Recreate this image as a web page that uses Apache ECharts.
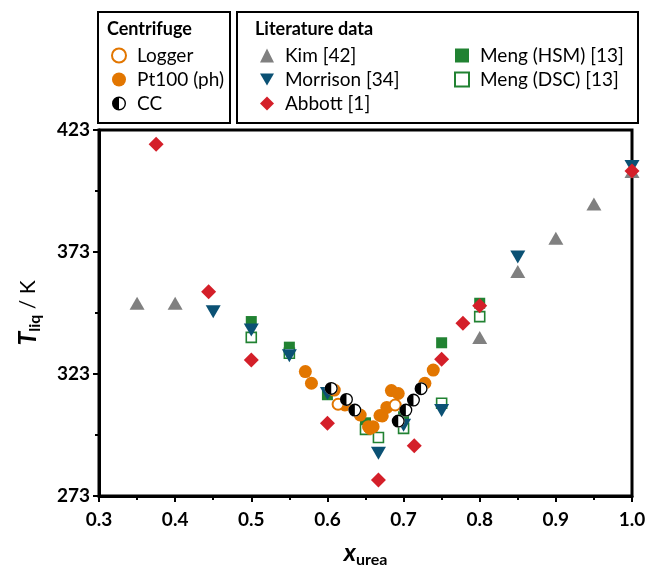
<!DOCTYPE html>
<html lang="en">
<head>
<meta charset="UTF-8">
<title>urea liquidus</title>
<script src="https://cdn.jsdelivr.net/npm/echarts@6/dist/echarts.min.js"></script>
<style>
  html, body { margin: 0; padding: 0; background: #fff; }
  #chart { width: 649px; height: 573px; }
</style>
</head>
<body>
<div id="chart"></div>
<script>
// [x_urea, T_liq in K]
var logger = [[0.614, 310.6], [0.689, 310.3]];
var pt100 = [[0.571, 324], [0.579, 319.2], [0.609, 316.4], [0.623, 310.3], [0.643, 306.2],
             [0.654, 301.4], [0.656, 300.7], [0.660, 301.4], [0.669, 306.0], [0.672, 305.8],
             [0.678, 309.3], [0.684, 316.2], [0.693, 315.0], [0.728, 319.2], [0.739, 324.6]];
var cc = [[0.605, 317.1], [0.625, 312.6], [0.636, 308.2], [0.693, 303.7], [0.703, 308.2],
          [0.713, 312.3], [0.723, 317.0]];
var kim = [[0.35, 352], [0.40, 352], [0.80, 338], [0.85, 365], [0.90, 378.6], [0.95, 392.7], [1.0, 406]];
var morrison = [[0.45, 348.5], [0.50, 341], [0.55, 330.5], [0.60, 315], [0.667, 290.5],
                [0.70, 302], [0.75, 308], [0.85, 371], [1.0, 408]];
var abbott = [[0.375, 417.2], [0.444, 356.7], [0.50, 328.7], [0.60, 302.8], [0.667, 279.6],
              [0.714, 293.6], [0.75, 329], [0.778, 343.8], [0.80, 351], [1.0, 406.2]];
var mengHSM = [[0.50, 344.5], [0.55, 334], [0.60, 314.5], [0.65, 303], [0.70, 305.5], [0.75, 335.8], [0.80, 352]];
var mengDSC = [[0.50, 338], [0.55, 331.5], [0.65, 300.3], [0.667, 297], [0.70, 300.7], [0.75, 311], [0.80, 346.5]];

var T0 = 273;          // y axis starts here, ticks every 50 K
var xTicks = [0.3, 1.0, 0.1];
var yTicks = [273, 423, 50];

var FONT = 'Lato';
var ORANGE = '#E27600', GREY = '#808080', BLUE = '#0B5174', RED = '#D41F29', GREEN = '#218232';
var CC_PATH = 'path://M10 0 A10 10 0 1 1 10 20 A10 10 0 1 1 10 0 Z M10 2 L10 18 A8 8 0 0 0 10 2 Z';
var DOWN_TRI = 'path://M0 0 L20 0 L10 17 Z';

function shift(arr) {
  return arr.map(function (p) { return [p[0], p[1] - T0]; });
}

var chart = echarts.init(document.getElementById('chart'));

function scatter(name, data, symbol, size, style) {
  style.opacity = 1;
  return { name: name, type: 'scatter', data: shift(data), symbol: symbol, symbolSize: size, itemStyle: style };
}

var legendText = { fontFamily: FONT, fontSize: 19, color: '#000', padding: [0, 0, 0, 6] };

var option = {
  animation: false,
  grid: { left: 99, right: 17, top: 130, bottom: 77, show: true, borderColor: '#000', borderWidth: 3,
          outerBoundsMode: 'none', containLabel: false },
  xAxis: {
    type: 'value', min: xTicks[0], max: xTicks[1], interval: xTicks[2],
    name: '{x|x}{s|urea}', nameLocation: 'middle', nameGap: 42,
    nameTextStyle: {
      rich: {
        x: { fontFamily: FONT, fontSize: 25, fontWeight: 'bold', fontStyle: 'italic', color: '#000', lineHeight: 30 },
        s: { fontFamily: FONT, fontSize: 16, fontWeight: 'bold', color: '#000', lineHeight: 14, verticalAlign: 'bottom' }
      }
    },
    axisLine: { onZero: false, lineStyle: { color: '#000', width: 3 } },
    axisTick: { length: 6, lineStyle: { width: 2, color: '#000' } },
    minorTick: { show: true, splitNumber: 2, length: 4, lineStyle: { width: 2, color: '#000' } },
    splitLine: { show: false },
    axisLabel: { margin: 14, fontFamily: FONT, fontSize: 19, fontWeight: 'bold', color: '#000',
                 formatter: function (v) { return v.toFixed(1); } }
  },
  yAxis: {
    type: 'value', min: 0, max: yTicks[1] - T0, interval: yTicks[2],
    name: '{t|T}{s|liq}{k| / K}', nameLocation: 'middle', nameGap: 56, nameRotate: 90,
    nameTextStyle: {
      rich: {
        t: { fontFamily: FONT, fontSize: 25, fontWeight: 'bold', fontStyle: 'italic', color: '#000', lineHeight: 30 },
        s: { fontFamily: FONT, fontSize: 16, fontWeight: 'bold', color: '#000', lineHeight: 14, verticalAlign: 'bottom' },
        k: { fontFamily: FONT, fontSize: 21, color: '#000', lineHeight: 30 }
      }
    },
    axisLine: { onZero: false, lineStyle: { color: '#000', width: 3 } },
    axisTick: { length: 6, lineStyle: { width: 2, color: '#000' } },
    minorTick: { show: true, splitNumber: 2, length: 4, lineStyle: { width: 2, color: '#000' } },
    splitLine: { show: false },
    axisLabel: { margin: 9, fontFamily: FONT, fontSize: 19, fontWeight: 'bold', color: '#000',
                 formatter: function (v) { return v + T0; } }
  },
  legend: [
    { data: ['Logger', 'Pt100 (ph)', 'CC'], orient: 'vertical', left: 106, top: 41,
      itemWidth: 14, itemHeight: 14, itemGap: 5, textStyle: legendText, selectedMode: false },
    { data: ['Kim [42]', 'Morrison [34]', 'Abbott [1]'], orient: 'vertical', left: 255, top: 41,
      itemWidth: 14, itemHeight: 14, itemGap: 5, textStyle: legendText, selectedMode: false },
    { data: ['Meng (HSM) [13]', 'Meng (DSC) [13]'], orient: 'vertical', left: 449, top: 41,
      itemWidth: 14, itemHeight: 14, itemGap: 5, textStyle: legendText, selectedMode: false }
  ],
  graphic: [
    { type: 'rect', shape: { x: 98, y: 12, width: 132, height: 111 },
      style: { fill: 'none', stroke: '#000', lineWidth: 2 } },
    { type: 'rect', shape: { x: 237, y: 12, width: 401, height: 111 },
      style: { fill: 'none', stroke: '#000', lineWidth: 2 } },
    { type: 'text', left: 107, top: 20,
      style: { text: 'Centrifuge', fontFamily: FONT, fontSize: 18, fontWeight: 'bold', fill: '#000' } },
    { type: 'text', left: 255, top: 20,
      style: { text: 'Literature data', fontFamily: FONT, fontSize: 18, fontWeight: 'bold', fill: '#000' } }
  ],
  series: [
    scatter('Kim [42]', kim, 'triangle', [15, 13], { color: GREY }),
    scatter('Meng (HSM) [13]', mengHSM, 'rect', 11, { color: GREEN }),
    scatter('Meng (DSC) [13]', mengDSC, 'rect', 10, { color: '#fff', borderColor: GREEN, borderWidth: 1.6 }),
    scatter('Morrison [34]', morrison, DOWN_TRI, [15, 13], { color: BLUE }),
    scatter('Abbott [1]', abbott, 'diamond', 15, { color: RED }),
    scatter('Pt100 (ph)', pt100, 'circle', 13, { color: ORANGE }),
    scatter('Logger', logger, 'circle', 11, { color: '#fff', borderColor: ORANGE, borderWidth: 2 }),
    scatter('_ccbg', cc, 'circle', 13, { color: '#fff' }),
    scatter('CC', cc, CC_PATH, 13, { color: '#000' })
  ]
};

chart.setOption(option);
</script>
</body>
</html>
